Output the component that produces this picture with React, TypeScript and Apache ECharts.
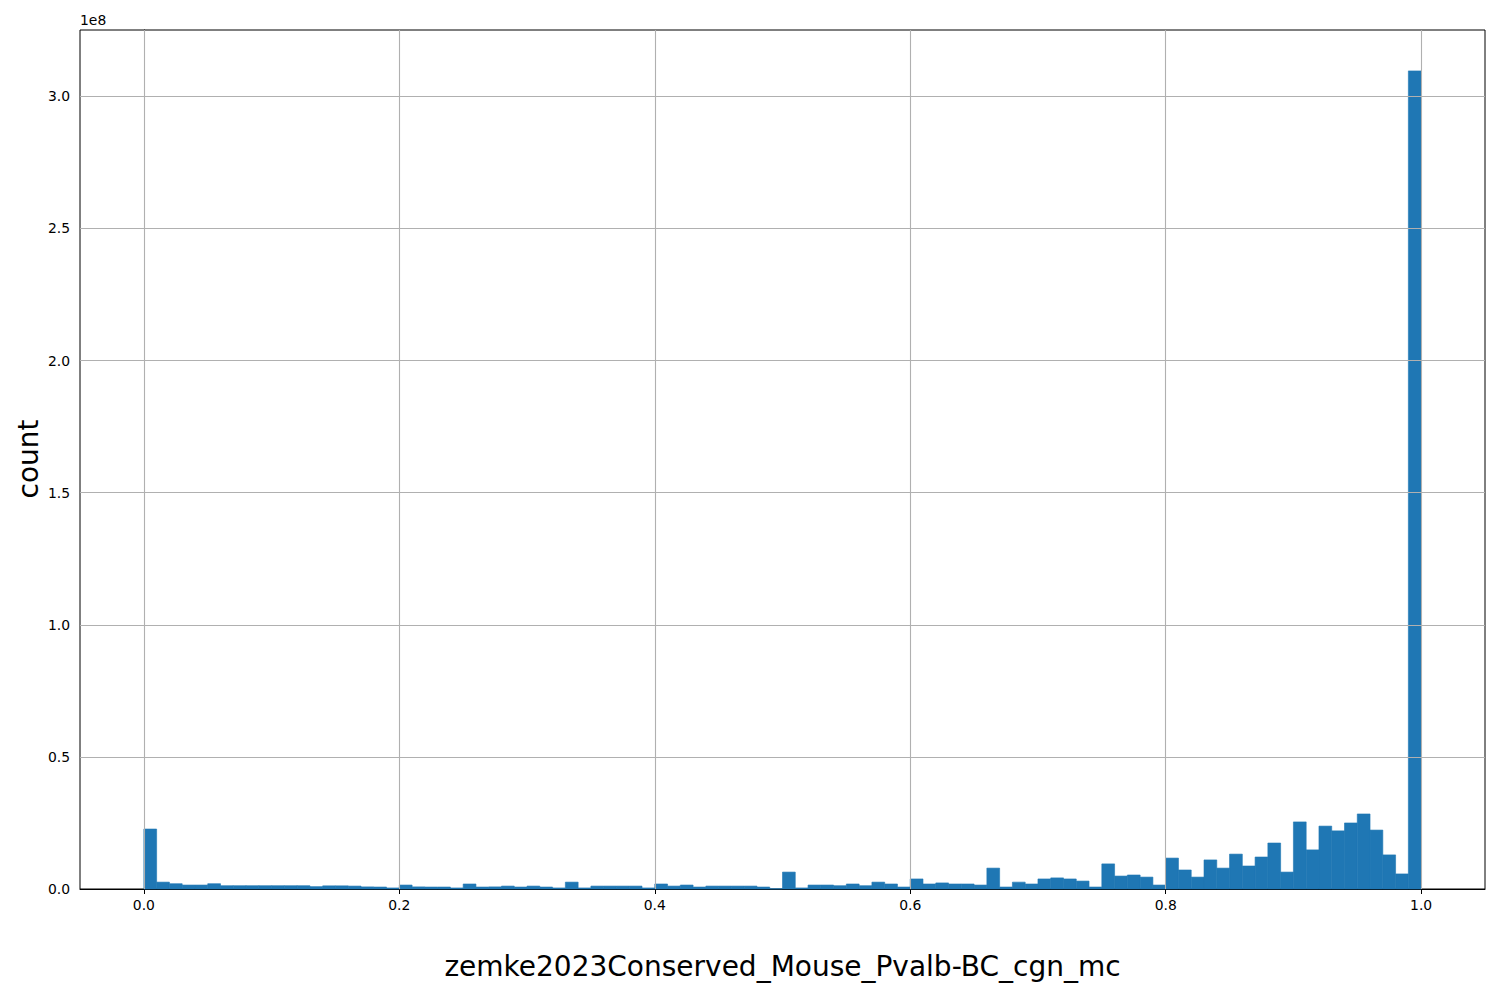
import React, { useEffect, useRef } from "react";
import * as echarts from "echarts";

// Histogram: 100 bins on [0, 1]; counts in millions
const binCount = 100;
const countsMillions: number[] = [
  22.7, 2.6, 2.0, 1.5, 1.5, 2.0, 1.25, 1.25, 1.25, 1.25,
  1.25, 1.25, 1.25, 0.9, 1.2, 1.2, 1.1, 0.8, 0.75, 0.4,
  1.5, 0.8, 0.75, 0.75, 0.4, 1.9, 0.75, 0.8, 1.1, 0.75,
  1.1, 0.75, 0.4, 2.6, 0.4, 1.1, 1.1, 1.1, 1.1, 0.4,
  1.9, 1.1, 1.5, 0.75, 1.1, 1.1, 1.1, 1.1, 0.75, 0.1,
  6.4, 0.4, 1.5, 1.5, 1.25, 1.9, 1.25, 2.6, 1.9, 0.75,
  3.8, 1.9, 2.3, 1.9, 1.9, 1.5, 7.9, 0.75, 2.6, 1.9,
  3.8, 4.2, 3.8, 3.0, 0.75, 9.5, 4.9, 5.3, 4.5, 1.5,
  11.7, 7.2, 4.5, 11.0, 7.9, 13.2, 8.7, 12.1, 17.4, 6.4,
  25.4, 14.8, 23.8, 22.0, 25.0, 28.4, 22.3, 12.9, 5.7, 309.6,
];
const xTicks = [0, 0.2, 0.4, 0.6, 0.8, 1.0];
const yTicks = [0, 0.5e8, 1.0e8, 1.5e8, 2.0e8, 2.5e8, 3.0e8];
const xName = "zemke2023Conserved_Mouse_Pvalb-BC_cgn_mc";
const yName = "count";
const offsetText = "1e8";

const FONT = "DejaVu Sans";

export default function App() {
  const ref = useRef<HTMLDivElement>(null);
  useEffect(() => {
    if (!ref.current) return;
    const chart = echarts.init(ref.current, undefined, { renderer: "svg" });
    const data = countsMillions.map((c, i) => [i / binCount, (i + 1) / binCount, c * 1e6]);
    const yMax = Math.max(...countsMillions) * 1e6 * 1.05;
    const gridColor = "#b0b0b0";
    chart.setOption({
      animation: false,
      backgroundColor: "#fff",
      grid: { left: 80, top: 30, width: 1405, height: 859, show: true, borderColor: "#000", borderWidth: 1, backgroundColor: "transparent" },
      xAxis: {
        type: "value",
        min: -0.05,
        max: 1.05,
        axisLine: { show: true, lineStyle: { color: "#000", width: 1 } },
        axisTick: { show: true, length: 5, customValues: xTicks, lineStyle: { color: "#000" } },
        axisLabel: {
          customValues: xTicks,
          formatter: (v: number) => v.toFixed(1),
          color: "#000",
          fontFamily: FONT,
          fontSize: 13.9,
          margin: 9,
        },
        splitLine: { show: false },
      },
      yAxis: {
        type: "value",
        min: 0,
        max: yMax,
        axisLine: { show: true, lineStyle: { color: "#000", width: 1 } },
        axisTick: { show: true, length: 5, customValues: yTicks, lineStyle: { color: "#000" } },
        axisLabel: {
          customValues: yTicks,
          formatter: (v: number) => (v / 1e8).toFixed(1),
          color: "#000",
          fontFamily: FONT,
          fontSize: 13.9,
          margin: 10,
        },
        splitLine: { show: false },
      },
      series: [
        {
          type: "custom",
          data,
          encode: { x: [0, 1], y: 2 },
          renderItem: (params: any, api: any) => {
            const x0 = api.value(0);
            const x1 = api.value(1);
            const y = api.value(2);
            const p0 = api.coord([x0, y]);
            const p1 = api.coord([x1, 0]);
            return {
              type: "rect",
              shape: { x: p0[0], y: p0[1], width: p1[0] - p0[0], height: p1[1] - p0[1] },
              style: { fill: "#1f77b4", stroke: "#1f77b4", lineWidth: 0.6 },
            };
          },
          markLine: {
            silent: true,
            symbol: ["none", "none"],
            label: { show: false },
            lineStyle: { color: gridColor, width: 1.1, type: "solid" },
            data: [
              ...xTicks.map((v) => ({ xAxis: v })),
              ...yTicks.filter((v) => v > 0).map((v) => ({ yAxis: v })),
            ],
          },
        },
      ],
      graphic: [
        {
          type: "text",
          x: 80,
          y: 20,
          style: { text: offsetText, fontFamily: FONT, fontSize: 13.9, fill: "#000", textAlign: "left", textVerticalAlign: "middle" },
        },
        {
          type: "text",
          x: 28,
          y: 459,
          rotation: Math.PI / 2,
          style: { text: yName, fontFamily: FONT, fontSize: 28, fill: "#000", textAlign: "center", textVerticalAlign: "middle" },
        },
        {
          type: "text",
          x: 782.5,
          y: 966,
          style: { text: xName, fontFamily: FONT, fontSize: 28, fill: "#000", textAlign: "center", textVerticalAlign: "middle" },
        },
      ],
    });
    return () => chart.dispose();
  }, []);
  return (
    <div
      ref={ref}
      style={{ position: "fixed", left: 0, top: 0, width: 1500, height: 1000, background: "#fff" }}
    />
  );
}
